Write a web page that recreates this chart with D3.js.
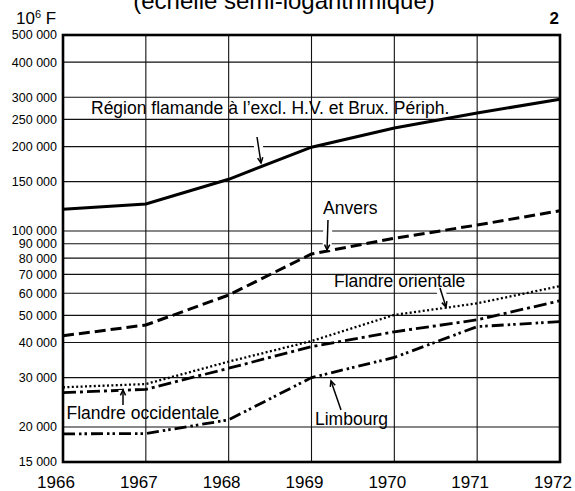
<!DOCTYPE html>
<html>
<head>
<meta charset="utf-8">
<script src="https://cdn.jsdelivr.net/npm/d3@7"></script>
<style>
  html, body { margin: 0; padding: 0; background: #fff; }
  svg { display: block; font-family: "Liberation Sans", Arial, sans-serif; }
</style>
</head>
<body>
<div id="chart"></div>
<script>
// Years on the x axis
const years = [1966, 1967, 1968, 1969, 1970, 1971, 1972];

// Values in 10^6 F
const regionFlamande = [119500, 124800, 152900, 199000, 233000, 263500, 295000];
const anvers = [42300, 46200, 59100, 82800, 94200, 105000, 118100];
const flandreOrientale = [27700, 28450, 34200, 40500, 50200, 55200, 63600];
const flandreOccidentale = [26500, 27250, 32400, 38700, 43700, 48200, 56400];
const limbourg = [18900, 18950, 21200, 30000, 35400, 45600, 47500];

// Gridlines / tick labels of the semi-log axis
const yTicks = [500000, 400000, 300000, 250000, 200000, 150000, 100000,
                90000, 80000, 70000, 60000, 50000, 40000, 30000, 20000, 15000];

const seriesList = [
    { name: "Région flamande", values: regionFlamande, width: 3, dash: null },
    { name: "Anvers", values: anvers, width: 3, dash: "11,5" },
    { name: "Flandre orientale", values: flandreOrientale, width: 2.3, dash: "2,2.4" },
    { name: "Flandre occidentale", values: flandreOccidentale, width: 2.8, dash: "13,4,3,4" },
    { name: "Limbourg", values: limbourg, width: 2.8, dash: "12,4,2.5,3,2.5,4" }
];

function drawChart(containerSelector) {
    const width = 575, height = 491;
    const plot = { left: 63, right: 560, top: 35, bottom: 462 };

    const svg = d3.select(containerSelector)
        .append("svg")
        .attr("width", width)
        .attr("height", height);

    const x = d3.scaleLinear().domain([1966, 1972]).range([plot.left, plot.right]);
    const y = d3.scaleLog().domain([15000, 500000]).range([plot.bottom, plot.top]);

    const fmt = v => d3.format(",")(v).replace(/,/g, " ");

    // Title (cut off at the top in the scan)
    svg.append("text")
        .attr("x", 284).attr("y", 9)
        .attr("text-anchor", "middle")
        .style("font-size", "24px")
        .text("(échelle semi-logarithmique)");

    const unit = svg.append("text")
        .attr("x", 16).attr("y", 24)
        .style("font-size", "17px");
    unit.append("tspan").text("10");
    unit.append("tspan").attr("dy", -6).style("font-size", "11px").text("6");
    unit.append("tspan").attr("dy", 6).text(" F");

    svg.append("text")
        .attr("x", 559).attr("y", 24)
        .attr("text-anchor", "end")
        .style("font-size", "17px")
        .style("font-weight", "bold")
        .text("2");

    // Gridlines
    const grid = svg.append("g").attr("stroke", "#111").attr("stroke-width", 1.1);
    grid.selectAll(".hgrid")
        .data(yTicks)
        .enter().append("line")
        .attr("x1", plot.left).attr("x2", plot.right)
        .attr("y1", d => y(d)).attr("y2", d => y(d));

    grid.selectAll(".vgrid")
        .data(years)
        .enter().append("line")
        .attr("x1", d => x(d)).attr("x2", d => x(d))
        .attr("y1", plot.top).attr("y2", plot.bottom);

    // Y tick labels
    svg.append("g").selectAll("text")
        .data(yTicks)
        .enter().append("text")
        .attr("x", 57)
        .attr("y", d => y(d))
        .attr("dy", "0.35em")
        .attr("text-anchor", "end")
        .style("font-size", "12.5px")
        .text(fmt);

    // X tick labels
    svg.append("g").selectAll("text")
        .data(years)
        .enter().append("text")
        .attr("x", d => x(d) - 7)
        .attr("y", 488)
        .attr("text-anchor", "middle")
        .style("font-size", "17px")
        .text(d => d);

    // Arrows from labels to lines (white halo cuts the gridlines like in the scan)
    const arrows = [
        { x1: 257, y1: 137, x2: 261, y2: 163 },
        { x1: 328, y1: 220, x2: 327, y2: 250 },
        { x1: 440, y1: 288, x2: 446, y2: 307 },
        { x1: 123, y1: 405, x2: 123, y2: 390 },
        { x1: 341, y1: 410, x2: 331, y2: 381 }
    ];
    const arrowG = svg.append("g");
    arrows.forEach(a => {
        arrowG.append("line")
            .attr("x1", a.x1).attr("y1", a.y1).attr("x2", a.x2).attr("y2", a.y2)
            .attr("stroke", "#fff").attr("stroke-width", 9);
    });

    // Series lines
    const line = d3.line()
        .x((d, i) => x(years[i]))
        .y(d => y(d));

    svg.append("g").selectAll("path")
        .data(seriesList)
        .enter().append("path")
        .attr("d", d => line(d.values))
        .attr("fill", "none")
        .attr("stroke", "#000")
        .attr("stroke-width", d => d.width)
        .attr("stroke-dasharray", d => d.dash);

    arrows.forEach(a => {
        const ang = Math.atan2(a.y2 - a.y1, a.x2 - a.x1);
        const len = 6, spread = 0.45;
        const p1 = [a.x2 - len * Math.cos(ang - spread), a.y2 - len * Math.sin(ang - spread)];
        const p2 = [a.x2 - len * Math.cos(ang + spread), a.y2 - len * Math.sin(ang + spread)];
        arrowG.append("line")
            .attr("x1", a.x1).attr("y1", a.y1).attr("x2", a.x2).attr("y2", a.y2)
            .attr("stroke", "#000").attr("stroke-width", 1.5);
        arrowG.append("path")
            .attr("d", `M${p1[0]},${p1[1]}L${a.x2},${a.y2}L${p2[0]},${p2[1]}`)
            .attr("fill", "none").attr("stroke", "#000").attr("stroke-width", 1.5);
    });
    arrowG.raise();

    // Series labels
    const labels = [
        { text: "Région flamande à l’excl. H.V. et Brux. Périph.", x: 91, y: 113.5 },
        { text: "Anvers", x: 323, y: 213.5 },
        { text: "Flandre orientale", x: 334, y: 287 },
        { text: "Flandre occidentale", x: 66.5, y: 419 },
        { text: "Limbourg", x: 315, y: 425 }
    ];
    svg.append("g").selectAll("text")
        .data(labels)
        .enter().append("text")
        .attr("x", d => d.x).attr("y", d => d.y)
        .style("font-size", "17.5px")
        .text(d => d.text);

    // Frame
    svg.append("rect")
        .attr("x", plot.left).attr("y", plot.top)
        .attr("width", plot.right - plot.left)
        .attr("height", plot.bottom - plot.top)
        .attr("fill", "none")
        .attr("stroke", "#000")
        .attr("stroke-width", 2.6);
}

drawChart("#chart");
</script>
</body>
</html>
